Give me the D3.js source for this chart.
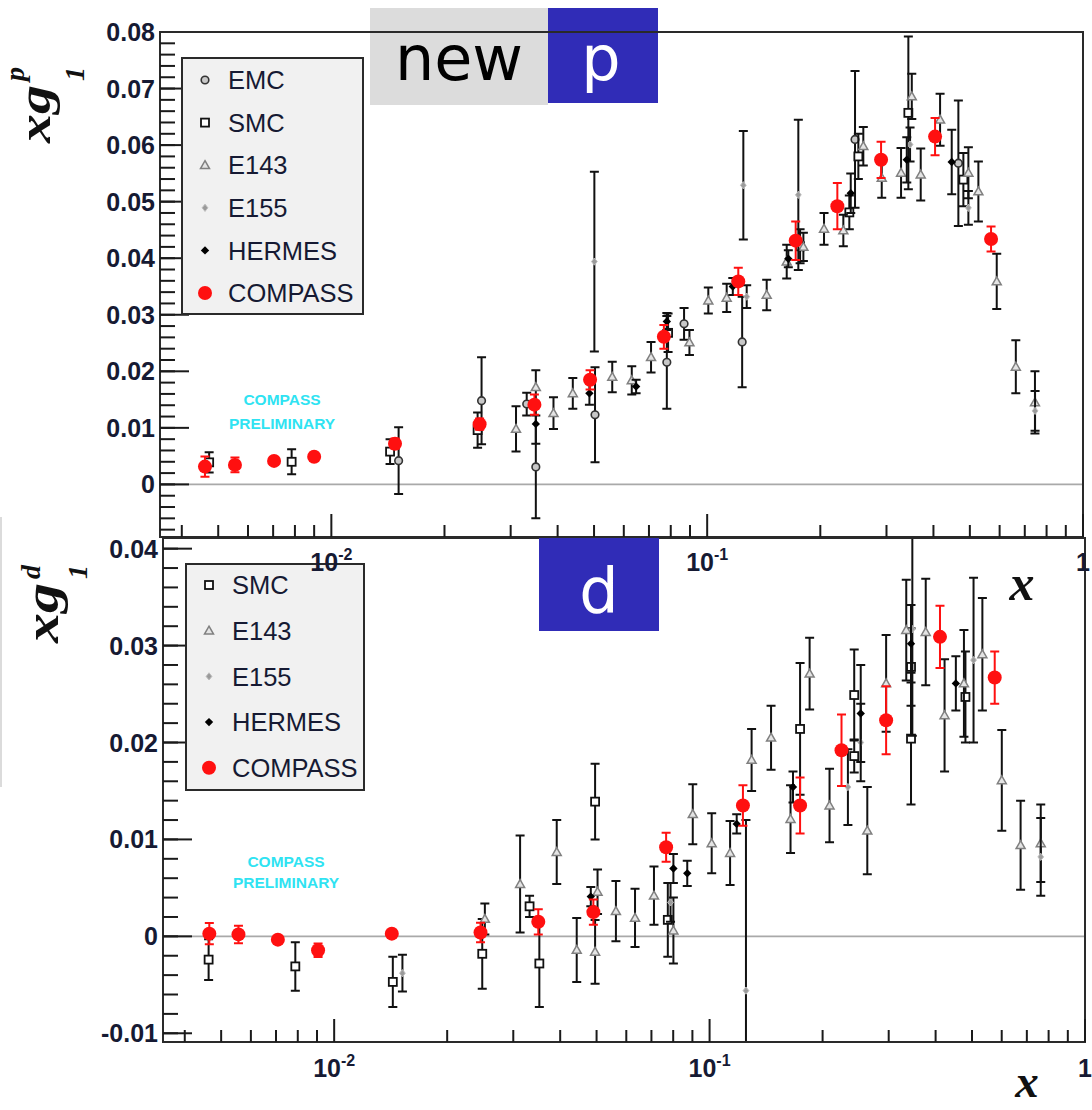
<!DOCTYPE html>
<html>
<head>
<meta charset="utf-8">
<script src="https://cdn.jsdelivr.net/npm/d3@7"></script>
<style>
  html, body { margin: 0; padding: 0; background: #fff; }
  svg { display: block; }
</style>
</head>
<body>
<svg id="chart" width="1092" height="1110"></svg>
<script>
// ---------- data: [x, x*g1, stat. error] ----------
// proton
const emcP = [
  [0.0151, 0.0042, 0.0059], [0.0251, 0.0148, 0.0077], [0.0331, 0.0142, 0.0020],
  [0.0350, 0.0031, 0.0091], [0.0503, 0.0123, 0.0084], [0.0781, 0.0216, 0.0082],
  [0.0868, 0.0284, 0.0028], [0.1239, 0.0252, 0.0080], [0.2474, 0.0610, 0.0121],
  [0.4660, 0.0568, 0.0111]
];
const smcP = [
  [0.00473, 0.0039, 0.0018], [0.00784, 0.0040, 0.0022], [0.01433, 0.0058, 0.0022],
  [0.0245, 0.0096, 0.0031], [0.0787, 0.0268, 0.0034], [0.1767, 0.0421, 0.0030],
  [0.2389, 0.0481, 0.0030], [0.2525, 0.0580, 0.0040], [0.3430, 0.0657, 0.0135],
  [0.4805, 0.0539, 0.0047]
];
const e143P = [
  [0.0310, 0.0098, 0.0040], [0.0350, 0.0172, 0.0030], [0.0390, 0.0126, 0.0028],
  [0.0439, 0.0161, 0.0027], [0.0559, 0.0190, 0.0027], [0.0630, 0.0184, 0.0025],
  [0.0709, 0.0225, 0.0027], [0.0897, 0.0251, 0.0022], [0.1007, 0.0325, 0.0023],
  [0.1127, 0.0330, 0.0025], [0.1440, 0.0335, 0.0027], [0.1628, 0.0394, 0.0030],
  [0.1803, 0.0420, 0.0025], [0.2046, 0.0452, 0.0028], [0.2303, 0.0449, 0.0028],
  [0.2603, 0.0598, 0.0034], [0.2914, 0.0542, 0.0035], [0.3280, 0.0551, 0.0044],
  [0.3503, 0.0686, 0.0040], [0.3700, 0.0548, 0.0046], [0.4166, 0.0645, 0.0046],
  [0.4955, 0.0551, 0.0045], [0.5268, 0.0518, 0.0053], [0.5895, 0.0359, 0.0049],
  [0.6626, 0.0208, 0.0047], [0.7450, 0.0145, 0.0055]
];
const e155P = [
  [0.0501, 0.0394, 0.0159], [0.1248, 0.0529, 0.0096], [0.1274, 0.0332, 0.0020],
  [0.1748, 0.0512, 0.0133], [0.3466, 0.0601, 0.0030], [0.4955, 0.0489, 0.0030],
  [0.7455, 0.0130, 0.0035]
];
const hermesP = [
  [0.0350, 0.0107, 0.0035], [0.0486, 0.0161, 0.0020], [0.0647, 0.0173, 0.0012],
  [0.0781, 0.0288, 0.0015], [0.1170, 0.0350, 0.0015], [0.1644, 0.0399, 0.0015],
  [0.2410, 0.0515, 0.0035], [0.3397, 0.0574, 0.0040], [0.4474, 0.0570, 0.0057]
];
const compassP = [
  [0.00461, 0.00315, 0.0018], [0.00554, 0.00345, 0.0013], [0.00704, 0.00416, 0.0005],
  [0.0090, 0.0049, 0.0007], [0.01477, 0.0072, 0.0009], [0.0248, 0.01065, 0.0010],
  [0.0347, 0.0141, 0.0018], [0.0488, 0.0185, 0.0017], [0.0767, 0.0261, 0.0021],
  [0.1210, 0.0359, 0.0024], [0.1720, 0.0431, 0.0034], [0.2220, 0.0492, 0.0041],
  [0.2902, 0.0574, 0.0032], [0.4040, 0.0615, 0.0033], [0.5693, 0.0434, 0.0022]
];

// deuteron
const smcD = [
  [0.00463, -0.0024, 0.0021], [0.00788, -0.0031, 0.0025], [0.01433, -0.0047, 0.0026],
  [0.0248, -0.0018, 0.0036], [0.03315, 0.0031, 0.0011], [0.0352, -0.0028, 0.0045],
  [0.04955, 0.0139, 0.0039], [0.0774, 0.0017, 0.0038], [0.1742, 0.0214, 0.0068],
  [0.2428, 0.0249, 0.0047], [0.2428, 0.0186, 0.0017], [0.3440, 0.0204, 0.0068],
  [0.3440, 0.0278, 0.0040], [0.4803, 0.0247, 0.0047]
];
const e143D = [
  [0.0252, 0.0018, 0.0016], [0.03128, 0.0054, 0.0050], [0.03916, 0.0087, 0.0033],
  [0.04427, -0.0014, 0.0033], [0.04955, -0.0016, 0.0033], [0.0503, 0.0046, 0.0023],
  [0.0563, 0.0026, 0.0031], [0.0633, 0.0019, 0.0030], [0.0711, 0.0042, 0.0030],
  [0.0801, 0.0006, 0.0034], [0.0902, 0.0126, 0.0031], [0.1013, 0.0096, 0.0031],
  [0.1134, 0.0086, 0.0033], [0.1294, 0.0182, 0.0032], [0.1458, 0.0205, 0.0033],
  [0.1643, 0.0121, 0.0035], [0.1847, 0.0271, 0.0037], [0.2087, 0.0135, 0.0038],
  [0.2631, 0.0109, 0.0045], [0.2953, 0.0261, 0.0050], [0.3341, 0.0316, 0.0052],
  [0.3765, 0.0314, 0.0055], [0.4226, 0.0228, 0.0058], [0.4759, 0.0261, 0.0055],
  [0.5329, 0.0291, 0.0058], [0.6003, 0.0161, 0.0052], [0.6737, 0.0094, 0.0046],
  [0.7623, 0.0096, 0.0040]
];
const e155D = [
  [0.0152, -0.0038, 0.0019], [0.0787, 0.0035, 0.0020], [0.1250, -0.0056, 0.0176],
  [0.2336, 0.0154, 0.0039], [0.2527, 0.0200, 0.0040], [0.3468, 0.0317, 0.0110],
  [0.5048, 0.0285, 0.0085], [0.7623, 0.0082, 0.0040]
];
const hermesD = [
  [0.04826, 0.0041, 0.0010], [0.0801, 0.0070, 0.0015], [0.0872, 0.0065, 0.0013],
  [0.1181, 0.0116, 0.0010], [0.1668, 0.0154, 0.0016], [0.2527, 0.0230, 0.0050],
  [0.3440, 0.0302, 0.0040], [0.4529, 0.0261, 0.0028]
];
const compassD = [
  [0.00465, 0.00028, 0.0011], [0.00556, 0.0002, 0.0009], [0.00708, -0.00034, 0.0003],
  [0.00906, -0.00144, 0.0007], [0.01424, 0.00028, 0.0003], [0.02454, 0.0004, 0.0010],
  [0.03497, 0.0015, 0.0013], [0.04903, 0.0025, 0.0013], [0.0766, 0.0092, 0.0015],
  [0.1227, 0.0135, 0.0021], [0.1742, 0.0135, 0.0029], [0.2246, 0.0192, 0.0037],
  [0.2953, 0.0223, 0.0035], [0.4109, 0.0309, 0.0032], [0.5748, 0.0267, 0.0027]
];

// ---------- axis ticks and labels ----------
const xDomain = [0.0035, 1];
const xMajorTicks = [0.01, 0.1, 1];
const xMajorLabels = [["10", "-2"], ["10", "-1"], ["1", ""]];
const yTicksP = [0, 0.01, 0.02, 0.03, 0.04, 0.05, 0.06, 0.07, 0.08];
const yTicksD = [-0.01, 0, 0.01, 0.02, 0.03, 0.04];
const yLabelsP = ["0", "0.01", "0.02", "0.03", "0.04", "0.05", "0.06", "0.07", "0.08"];
const yLabelsD = ["-0.01", "0", "0.01", "0.02", "0.03", "0.04"];

const legendP = ["EMC", "SMC", "E143", "E155", "HERMES", "COMPASS"];
const legendD = ["SMC", "E143", "E155", "HERMES", "COMPASS"];

// ---------- drawing ----------
const svg = d3.select("#chart");
svg.append("rect").attr("width", 1092).attr("height", 1110).attr("fill", "#fff");

const TEXT = "#161a33";
const SANS = "'Liberation Sans', Arial, sans-serif";
const SERIF = "'Liberation Serif', 'Times New Roman', serif";

function drawMarker(sel, kind, px, py) {
  if (kind === "COMPASS") {
    sel.append("circle").attr("cx", px).attr("cy", py).attr("r", 7).attr("fill", "#ff1010");
  } else if (kind === "SMC") {
    sel.append("rect").attr("x", px - 4).attr("y", py - 4).attr("width", 8).attr("height", 8)
      .attr("fill", "#fff").attr("stroke", "#111").attr("stroke-width", 1.8);
  } else if (kind === "EMC") {
    sel.append("circle").attr("cx", px).attr("cy", py).attr("r", 3.8)
      .attr("fill", "#c8c8c8").attr("stroke", "#333").attr("stroke-width", 1.6);
  } else if (kind === "E143") {
    const s = 4.5;
    sel.append("path")
      .attr("d", `M${px},${py - s}L${px + s},${py + s * 0.75}L${px - s},${py + s * 0.75}Z`)
      .attr("fill", "#e4e4e4").attr("stroke", "#808080").attr("stroke-width", 1.5);
  } else if (kind === "E155") {
    const s = 3.6;
    sel.append("path")
      .attr("d", `M${px},${py - s}L${px + s * 0.8},${py}L${px},${py + s}L${px - s * 0.8},${py}Z`)
      .attr("fill", "#9a9a9a").attr("stroke", "#bdbdbd").attr("stroke-width", 1);
  } else if (kind === "HERMES") {
    const s = 4.2;
    sel.append("path")
      .attr("d", `M${px},${py - s}L${px + s},${py}L${px},${py + s}L${px - s},${py}Z`)
      .attr("fill", "#000");
  }
}

function drawPanel(cfg) {
  const { left, right, top, bottom } = cfg.frame;
  const x = d3.scaleLog().domain(xDomain).range([left, right]);
  const y = d3.scaleLinear().domain(cfg.yDomain).range([bottom, top]);
  const g = svg.append("g");

  const clipId = "clip-" + cfg.id;
  svg.append("clipPath").attr("id", clipId)
    .append("rect").attr("x", left).attr("y", top).attr("width", right - left).attr("height", bottom - top);

  // zero line
  g.append("line").attr("x1", left).attr("x2", right).attr("y1", y(0)).attr("y2", y(0))
    .attr("stroke", "#a9a9a9").attr("stroke-width", 1.6);

  // preliminary tag
  const tag = g.append("g").attr("font-family", SANS).attr("font-weight", "bold")
    .attr("font-size", 15.5).attr("fill", "#2fe3f2").attr("text-anchor", "middle");
  tag.append("text").attr("x", cfg.tag[0]).attr("y", cfg.tag[1]).text("COMPASS");
  tag.append("text").attr("x", cfg.tag[0]).attr("y", cfg.tag[1] + cfg.tag[2]).text("PRELIMINARY");

  // series: error bars then markers
  const plot = g.append("g");
  cfg.series.forEach(([kind, data]) => {
    const col = kind === "COMPASS" ? "#ff1010" : "#111";
    const bars = plot.append("g").attr("clip-path", `url(#${clipId})`)
      .attr("stroke", col).attr("stroke-width", 2).attr("fill", "none");
    bars.selectAll("path").data(data).join("path")
      .attr("d", d => {
        const px = x(d[0]), y1 = y(d[1] + d[2]), y2 = y(d[1] - d[2]), c = 4.5;
        return `M${px},${y1}V${y2}M${px - c},${y1}H${px + c}M${px - c},${y2}H${px + c}`;
      });
    const marks = plot.append("g");
    data.forEach(d => drawMarker(marks, kind, x(d[0]), y(d[1])));
  });

  // frame
  g.append("rect").attr("x", left).attr("y", top).attr("width", right - left).attr("height", bottom - top)
    .attr("fill", "none").attr("stroke", "#2a2a2a").attr("stroke-width", 2);

  // y ticks
  const yt = g.append("g").attr("stroke", "#1a1a1a").attr("stroke-width", 2);
  const [i0, i1] = cfg.yMinorRange;
  d3.range(i0, i1 + 1).map(i => i * 0.002).forEach(v => {
    if (y(v) < top - 0.5 || y(v) > bottom + 0.5) return;
    yt.append("line").attr("x1", left).attr("x2", left + 15).attr("y1", y(v)).attr("y2", y(v));
  });
  cfg.yTicks.forEach(v => {
    yt.append("line").attr("x1", left).attr("x2", left + 29).attr("y1", y(v)).attr("y2", y(v));
  });
  g.append("g").attr("font-family", SANS).attr("font-weight", "bold").attr("font-size", 25)
    .attr("fill", TEXT).attr("text-anchor", "end")
    .selectAll("text").data(cfg.yTicks).join("text")
    .attr("x", left - 5).attr("y", v => y(v)).attr("dy", "0.36em")
    .text((v, i) => cfg.yLabels[i]);

  // x ticks
  const xt = g.append("g").attr("stroke", "#1a1a1a").attr("stroke-width", 2);
  x.ticks().filter(v => xMajorTicks.indexOf(v) < 0 && v > xDomain[0]).forEach(v => {
    xt.append("line").attr("x1", x(v)).attr("x2", x(v)).attr("y1", bottom).attr("y2", bottom - 12);
  });
  xMajorTicks.forEach(v => {
    xt.append("line").attr("x1", x(v)).attr("x2", x(v)).attr("y1", bottom).attr("y2", bottom - 23);
  });

  return { g, x, y };
}

function drawXLabels(x, baseY) {
  const lab = svg.append("g").attr("font-family", SANS).attr("font-weight", "bold")
    .attr("fill", TEXT).attr("text-anchor", "middle");
  xMajorTicks.forEach((v, i) => {
    const t = lab.append("text").attr("x", x(v)).attr("y", baseY).attr("font-size", 25);
    t.append("tspan").text(xMajorLabels[i][0]);
    if (xMajorLabels[i][1]) {
      t.append("tspan").attr("dy", -11).attr("font-size", 16).text(xMajorLabels[i][1]);
    }
  });
}

function drawXTitle(cx, baseY, fs) {
  svg.append("text").attr("x", cx).attr("y", baseY).attr("text-anchor", "middle")
    .attr("font-family", SERIF).attr("font-style", "italic").attr("font-weight", "bold")
    .attr("font-size", fs).attr("fill", "#111").text("x");
}

function drawYTitle(baseX, bottomY, fs, len, sup, supV, subV) {
  const t = svg.append("g").attr("transform", `translate(${baseX},${bottomY}) rotate(-90)`)
    .attr("font-family", SERIF).attr("font-style", "italic").attr("font-weight", "bold").attr("fill", "#111");
  t.append("text").attr("x", 0).attr("y", 0).attr("font-size", fs)
    .attr("textLength", len).attr("lengthAdjust", "spacingAndGlyphs").text("xg");
  t.append("text").attr("x", len + 4).attr("y", supV).attr("font-size", 28).text(sup);
  t.append("text").attr("x", len + 4).attr("y", subV).attr("font-size", 28).text("1");
}

function drawLegend(box, names, y0, dy) {
  const lg = svg.append("g");
  lg.append("rect").attr("x", box[0]).attr("y", box[1]).attr("width", box[2] - box[0]).attr("height", box[3] - box[1])
    .attr("fill", "#f1f1f1").attr("stroke", "#2a2a2a").attr("stroke-width", 2);
  names.forEach((n, i) => {
    const yy = y0 + i * dy;
    drawMarker(lg, n, box[0] + 23, yy);
    lg.append("text").attr("x", box[0] + 46).attr("y", yy).attr("dy", "0.36em")
      .attr("font-family", SANS).attr("font-size", 25.5).attr("fill", TEXT).text(n);
  });
}

// thin rule at the left page edge
svg.append("line").attr("x1", 1).attr("x2", 1).attr("y1", 517).attr("y2", 787)
  .attr("stroke", "#cfcfcf").attr("stroke-width", 1.5);

// deuteron panel (drawn first, the proton panel's labels sit over it)
const pd = drawPanel({
  id: "d",
  frame: { left: 163, right: 1085, top: 538, bottom: 1042 },
  yDomain: [-0.0109, 0.0411],
  yTicks: yTicksD, yLabels: yLabelsD, yMinorRange: [-5, 20],
  tag: [286, 867, 21],
  series: [["SMC", smcD], ["E143", e143D], ["E155", e155D], ["HERMES", hermesD], ["COMPASS", compassD]]
});
drawLegend([186, 564, 364, 790], legendD, 585, 45.7);
drawXLabels(pd.x, 1077);
drawXTitle(1027, 1097, 47);
drawYTitle(58, 643, 48, 60, "d", -18, 29);

// proton panel
const pp = drawPanel({
  id: "p",
  frame: { left: 160, right: 1083, top: 32, bottom: 537 },
  yDomain: [-0.0093, 0.08],
  yTicks: yTicksP, yLabels: yLabelsP, yMinorRange: [-4, 40],
  tag: [282, 405, 24],
  series: [["EMC", emcP], ["SMC", smcP], ["E143", e143P], ["E155", e155P], ["HERMES", hermesP], ["COMPASS", compassP]]
});
drawLegend([182, 58, 363, 314], legendP, 80, 42.6);
drawXLabels(pp.x, 571);
drawXTitle(1022, 600, 50);
drawYTitle(50, 143, 46, 58, "p", -26, 34);

// header tags
const hdr = svg.append("g").attr("font-family", "'DejaVu Sans', Verdana, sans-serif").attr("text-anchor", "middle");
hdr.append("rect").attr("x", 370).attr("y", 8).attr("width", 178).attr("height", 97).attr("fill", "#dcdcdc");
hdr.append("text").attr("x", 459).attr("y", 80).attr("font-size", 62).attr("fill", "#000").text("new");
hdr.append("rect").attr("x", 548).attr("y", 8).attr("width", 110).attr("height", 95).attr("fill", "#302cb7");
hdr.append("text").attr("x", 601).attr("y", 80).attr("font-size", 62).attr("fill", "#fff").text("p");
hdr.append("rect").attr("x", 539).attr("y", 538).attr("width", 120).attr("height", 93).attr("fill", "#302cb7");
hdr.append("text").attr("x", 599).attr("y", 612).attr("font-size", 62).attr("fill", "#fff").text("d");

// top frame edge runs across the header tags
svg.append("line").attr("x1", 160).attr("x2", 1083).attr("y1", 32).attr("y2", 32)
  .attr("stroke", "#2a2a2a").attr("stroke-width", 2);
</script>
</body>
</html>
